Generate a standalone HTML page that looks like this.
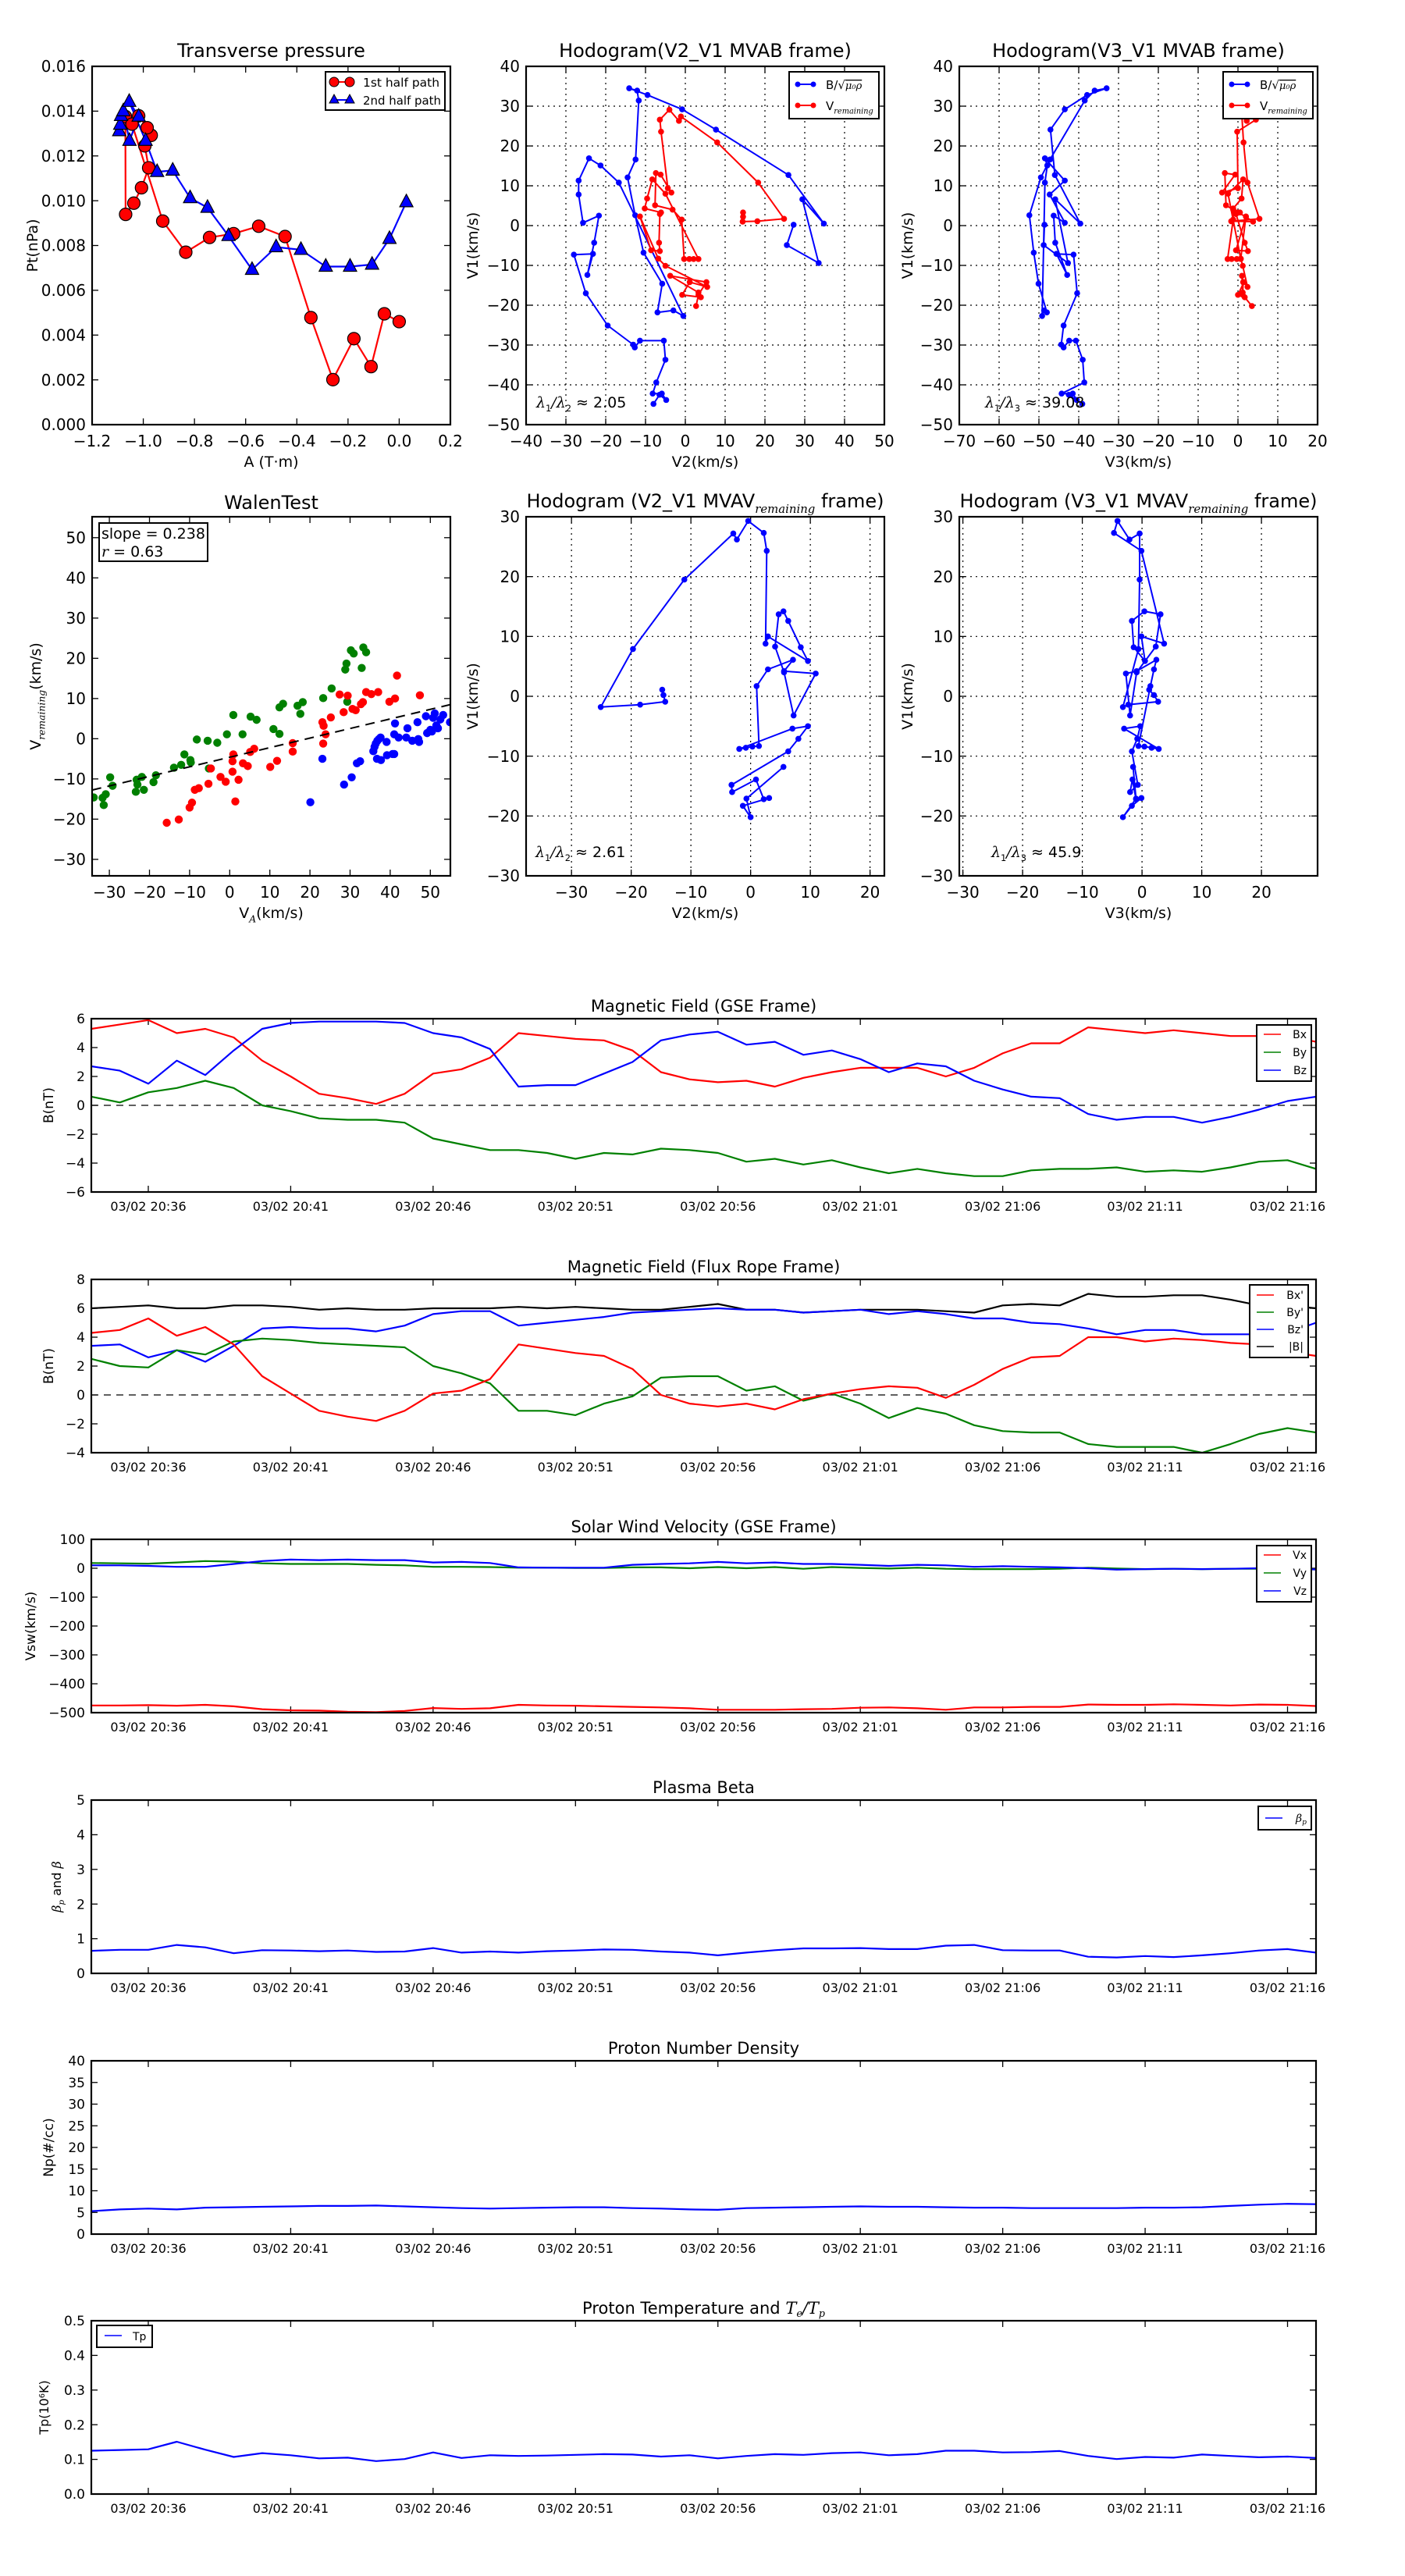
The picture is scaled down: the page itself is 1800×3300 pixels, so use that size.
<!DOCTYPE html>
<html><head><meta charset="utf-8"><title>Flux rope analysis</title>
<style>
html,body{margin:0;padding:0;background:#fff;}
svg{display:block;font-family:"DejaVu Sans","Liberation Sans",sans-serif;}
</style></head>
<body>
<svg id="fig" xmlns="http://www.w3.org/2000/svg" width="1800" height="3300" viewBox="0 0 1800 3300">
<rect x="0" y="0" width="1800" height="3300" fill="#fff"/>
</svg>
<script>
// ---------------- Transverse pressure ----------------
const tpA1 = [-1.07,-1.069,-1.037,-1.007,-0.979,-0.994,-0.969,-0.985,-1.018,-1.044,-0.924,-0.834,-0.741,-0.647,-0.549,-0.446,-0.345,-0.259,-0.177,-0.110,-0.058,0.0];
const tpP1 = [0.01376,0.00939,0.00989,0.01058,0.01147,0.01245,0.01292,0.01326,0.01379,0.01342,0.00909,0.0077,0.00836,0.00853,0.00886,0.0084,0.00478,0.00201,0.00384,0.00259,0.00495,0.0046];
const tpA2 = [-1.094,-1.09,-1.087,-1.078,-1.054,-1.018,-1.055,-0.991,-0.946,-0.885,-0.817,-0.749,-0.667,-0.575,-0.481,-0.384,-0.287,-0.192,-0.106,-0.038,0.028];
const tpP2 = [0.01311,0.0134,0.01379,0.0140,0.01268,0.01376,0.01442,0.01268,0.01129,0.01135,0.01012,0.00969,0.00843,0.00692,0.00793,0.00781,0.00706,0.00706,0.00715,0.0083,0.00994];
const tpXTicks = [-1.2,-1.0,-0.8,-0.6,-0.4,-0.2,0.0,0.2];
const tpYTicks = [0,0.002,0.004,0.006,0.008,0.010,0.012,0.014,0.016];

// ---------------- MVAB hodograms ----------------
const mvabB1 = [0.2,-4.9,-9.4,6.6,0.5,12.7,24.1,29.2,32.8,34.5,33.9,31.4,16.6,12.1,2.6,-6.8,-14.6,-21.8,-21.3,-22.7,10.8,15.1,16.9,11.3,7.8,0.7,2.5,-4.3,-12.4,-7.1,-7.3,-17.0,-25.1,-29.9,-30.6,-28.9,-28.9,-33.7,-39.4,-42.2,-42.2,-43.8,-42.5,-44.8];
const mvabB2 = [27.2,25.5,33.5,29.4,34.8,25.9,7.7,-0.8,-9.5,-14.1,-12.1,-11.7,-12.5,-14.5,-12.6,-10.5,-5.8,-7.0,-3.0,-0.5,-16.7,-21.3,-24.2,-26.8,-26.8,-25.7,-21.7,-22.9,-24.6,-23.2,-28.0,-25.0,-19.5,-13.1,-12.7,-11.4,-5.4,-5.0,-7.3,-8.2,-5.9,-4.8,-6.5,-8.0];
const mvabB3 = [-48.6,-48.8,-42.7,-45.9,-39.6,-46.0,-47.1,-43.5,-37.9,-33.0,-36.0,-38.5,-47.2,-49.5,-52.4,-51.3,-50.1,-48.0,-48.7,-49.2,-48.5,-47.9,-48.5,-43.5,-47.3,-43.5,-46.3,-45.9,-42.9,-45.6,-41.3,-40.4,-43.8,-44.4,-43.8,-42.4,-40.7,-39.0,-38.6,-44.3,-41.5,-40.5,-42.5,-39.1];
const mvabV1 = [3.3,2.2,1.0,1.1,1.7,10.8,20.9,27.4,26.3,29.1,26.6,23.6,9.4,8.3,12.8,13.2,5.1,4.0,1.5,-8.4,-8.4,-8.4,-8.4,8.0,11.6,6.8,4.3,3.3,2.9,-4.3,-6.4,-6.2,2.3,-8.3,-10.1,-15.4,-14.2,-17.4,-18.0,-16.8,-12.6,-14.2,-17.4,-20.2];
const mvabV2 = [14.5,14.5,14.4,18.1,24.8,18.3,8.0,-1.1,-1.6,-4.0,-6.4,-6.1,-4.4,-3.5,-6.2,-7.4,-7.6,-3.2,-0.9,-0.3,1.0,2.1,3.3,-5.0,-8.3,-9.6,-10.2,-6.1,-6.4,-6.6,-6.4,-8.6,-11.4,-6.8,-5.0,5.5,1.1,-0.8,3.9,3.3,-3.8,5.3,3.3,2.7];
const mvabV3 = [0.0,2.0,3.8,-1.7,5.4,2.4,1.4,1.0,2.2,1.5,4.5,-0.2,0.0,-4.0,-0.7,-3.3,-3.0,-1.2,-1.2,-2.6,-1.6,-0.3,0.7,-2.5,1.3,0.9,-1.2,0.5,-0.5,1.7,2.5,-0.5,2.0,0.7,1.2,2.4,1.5,0.0,1.7,1.2,1.0,1.3,1.2,3.5];
const h1XTicks = [-40,-30,-20,-10,0,10,20,30,40,50];
const h2XTicks = [-70,-60,-50,-40,-30,-20,-10,0,10,20];
const hTopYTicks = [-50,-40,-30,-20,-10,0,10,20,30,40];

// ---------------- Walen test ----------------
const walGreenX = [-33.9,-31.7,-31.4,-30.9,-29.8,-29.2,-23.4,-23.2,-23.0,-21.9,-21.4,-19.0,-18.4,-13.9,-12.1,-11.3,-9.8,-9.7,-8.2,-5.5,-5.2,-3.1,-0.7,0.9,3.2,5.2,6.7,10.9,12.4,12.4,13.3,16.9,17.6,18.2,23.3,25.4,28.8,29.1,29.3,30.2,30.9,32.9,33.3,34.0];
const walGreenY = [-14.6,-14.7,-16.5,-13.8,-9.6,-11.7,-13.2,-10.2,-11.4,-9.5,-12.7,-10.8,-9.1,-7.2,-6.5,-3.9,-5.3,-5.9,-0.2,-0.5,-7.4,-1.0,1.1,5.9,1.1,5.5,4.7,2.4,1.2,7.8,8.7,8.2,6.2,9.1,10.1,12.5,17.2,18.7,9.2,22.0,21.2,17.6,22.7,21.5];
const walRedX = [-15.7,-12.7,-10.0,-9.4,-8.7,-7.7,-5.3,-4.7,-2.3,-1.0,0.7,0.9,0.7,1.4,2.2,3.3,4.5,5.1,6.1,10.1,11.8,15.7,15.7,23.1,23.4,23.3,23.9,25.2,27.4,28.4,29.4,30.6,31.4,32.7,33.2,34.0,35.3,37.0,39.8,41.2,41.7,47.4];
const walRedY = [-20.9,-20.1,-17.1,-15.9,-12.7,-12.3,-11.2,-7.4,-9.5,-10.7,-8.2,-3.9,-5.6,-15.6,-10.2,-6.1,-6.8,-3.3,-2.5,-7.0,-5.5,-1.1,-3.2,4.1,3.2,-1.2,1.1,5.3,11.0,6.6,10.7,7.4,7.1,8.6,9.1,11.6,11.1,11.6,9.2,10.0,15.7,10.8];
const walBlueX = [20.1,23.1,28.5,30.4,31.7,32.5,35.8,36.4,36.7,37.2,37.7,39.1,39.2,40.6,41.0,41.2,41.0,42.1,44.0,44.3,45.5,46.8,47.0,47.2,48.9,49.2,50.0,50.7,51.1,51.5,52.5,53.2,54.9,36.8,37.6,36.1,50.4,51.9];
const walBlueY = [-15.8,-5.0,-11.4,-9.6,-6.1,-5.6,-3.1,-1.2,-5.0,-0.1,-5.3,-0.8,-4.1,-3.8,-3.8,3.8,1.1,0.3,0.3,2.6,-0.5,4.1,-0.1,-0.8,5.6,1.4,2.2,5.2,6.3,3.3,4.8,5.9,4.1,-0.5,0.3,-2.0,1.8,2.6];
const walSlope = [0.238];
const walIntercept = [-4.6];
const walXTicks = [-30,-20,-10,0,10,20,30,40,50];
const walYTicks = [-30,-20,-10,0,10,20,30,40,50];

// ---------------- MVAV hodograms ----------------
const mvavV1 = [1.1,0.2,-0.9,-1.4,-1.8,7.9,19.5,27.2,26.2,29.3,27.3,24.3,8.8,10.0,5.9,8.2,12.6,14.2,13.7,8.3,4.0,-3.2,3.8,4.2,6.1,4.5,1.7,-8.3,-8.4,-8.6,-8.8,-5.4,-5.0,-7.1,-9.2,-14.8,-16.0,-13.9,-17.2,-17.0,-18.3,-20.2,-17.1,-11.8];
const mvavV2 = [-14.8,-14.6,-14.3,-18.5,-25.1,-19.7,-11.1,-2.9,-2.3,-0.4,2.2,2.7,2.5,2.9,9.6,8.4,6.3,5.5,4.7,4.1,5.6,7.2,10.9,5.6,7.1,2.9,1.0,1.4,0.3,-0.8,-1.9,7.0,9.6,8.0,6.3,-3.2,-3.1,0.9,2.2,3.1,-1.3,0.0,-0.7,5.5];
const mvavV3 = [1.2,2.0,2.7,-2.3,-3.2,-0.6,-0.4,-0.4,-2.1,-4.1,-4.7,-0.1,3.7,-0.1,0.5,-1.4,-1.7,0.4,3.1,2.3,-0.9,-2.0,-2.7,-0.9,2.4,2.0,1.4,-0.6,0.4,1.6,2.8,-3.0,-0.3,-0.8,-1.7,-0.7,-2.0,-1.6,-1.0,-0.1,-1.7,-3.2,-1.0,-1.5];
const h3XTicks = [-30,-20,-10,0,10,20];
const h4XTicks = [-30,-20,-10,0,10,20];
const hBotYTicks = [-30,-20,-10,0,10,20,30];

// ---------------- Time series (1-min cadence, 20:34 .. 21:17) ----------------
const gseBx = [5.3,5.6,5.9,5.0,5.3,4.7,3.1,2.0,0.8,0.5,0.1,0.8,2.2,2.5,3.3,5.0,4.8,4.6,4.5,3.8,2.3,1.8,1.6,1.7,1.3,1.9,2.3,2.6,2.6,2.6,2.0,2.6,3.6,4.3,4.3,5.4,5.2,5.0,5.2,5.0,4.8,4.8,4.8,4.4];
const gseBy = [0.6,0.2,0.9,1.2,1.7,1.2,0.0,-0.4,-0.9,-1.0,-1.0,-1.2,-2.3,-2.7,-3.1,-3.1,-3.3,-3.7,-3.3,-3.4,-3.0,-3.1,-3.3,-3.9,-3.7,-4.1,-3.8,-4.3,-4.7,-4.4,-4.7,-4.9,-4.9,-4.5,-4.4,-4.4,-4.3,-4.6,-4.5,-4.6,-4.3,-3.9,-3.8,-4.4];
const gseBz = [2.7,2.4,1.5,3.1,2.1,3.8,5.3,5.7,5.8,5.8,5.8,5.7,5.0,4.7,3.9,1.3,1.4,1.4,2.2,3.0,4.5,4.9,5.1,4.2,4.4,3.5,3.8,3.2,2.3,2.9,2.7,1.7,1.1,0.6,0.5,-0.6,-1.0,-0.8,-0.8,-1.2,-0.8,-0.3,0.3,0.6];
const frBx = [4.3,4.5,5.3,4.1,4.7,3.5,1.3,0.1,-1.1,-1.5,-1.8,-1.1,0.1,0.3,1.1,3.5,3.2,2.9,2.7,1.8,0.0,-0.6,-0.8,-0.6,-1.0,-0.3,0.1,0.4,0.6,0.5,-0.2,0.7,1.8,2.6,2.7,4.0,4.0,3.7,3.9,3.8,3.6,3.5,3.0,2.7];
const frBy = [2.5,2.0,1.9,3.1,2.8,3.7,3.9,3.8,3.6,3.5,3.4,3.3,2.0,1.5,0.8,-1.1,-1.1,-1.4,-0.6,-0.1,1.2,1.3,1.3,0.3,0.6,-0.4,0.1,-0.6,-1.6,-0.9,-1.3,-2.1,-2.5,-2.6,-2.6,-3.4,-3.6,-3.6,-3.6,-4.0,-3.4,-2.7,-2.3,-2.6];
const frBz = [3.4,3.5,2.6,3.1,2.3,3.4,4.6,4.7,4.6,4.6,4.4,4.8,5.6,5.8,5.8,4.8,5.0,5.2,5.4,5.7,5.8,5.9,6.0,5.9,5.9,5.7,5.8,5.9,5.6,5.8,5.6,5.3,5.3,5.0,4.9,4.6,4.2,4.5,4.5,4.2,4.2,4.2,4.3,5.0];
const frBt = [6.0,6.1,6.2,6.0,6.0,6.2,6.2,6.1,5.9,6.0,5.9,5.9,6.0,6.0,6.0,6.1,6.0,6.1,6.0,5.9,5.9,6.1,6.3,5.9,5.9,5.7,5.8,5.9,5.9,5.9,5.8,5.7,6.2,6.3,6.2,7.0,6.8,6.8,6.9,6.9,6.6,6.2,6.2,6.0];
const swVx = [-475,-475,-474,-476,-473,-478,-488,-492,-493,-497,-498,-494,-484,-487,-485,-473,-475,-476,-478,-480,-482,-485,-490,-490,-490,-488,-487,-483,-482,-485,-490,-482,-482,-480,-480,-472,-473,-473,-471,-473,-475,-472,-473,-477];
const swVy = [18,17,16,20,25,23,17,15,15,15,12,10,5,5,4,2,2,1,1,3,3,0,4,0,4,-2,4,1,-1,2,-2,-3,-3,-3,-2,2,-1,-3,-2,-3,-2,-2,-3,-4];
const swVz = [10,10,8,5,5,15,25,30,28,30,28,28,20,22,18,3,2,2,2,12,15,17,22,17,20,15,15,12,8,12,10,5,7,5,3,0,-5,-3,-2,-3,-2,0,-2,-4];
const betaP = [0.65,0.68,0.68,0.82,0.75,0.58,0.67,0.66,0.64,0.66,0.62,0.63,0.73,0.6,0.63,0.6,0.64,0.66,0.69,0.68,0.63,0.6,0.52,0.6,0.67,0.72,0.72,0.73,0.7,0.7,0.8,0.82,0.67,0.66,0.66,0.48,0.46,0.5,0.47,0.52,0.58,0.66,0.7,0.6];
const protonNp = [5.3,5.7,5.9,5.7,6.1,6.2,6.3,6.4,6.5,6.5,6.6,6.4,6.2,6.0,5.9,6.0,6.1,6.2,6.2,6.0,5.9,5.7,5.6,6.0,6.1,6.2,6.3,6.4,6.3,6.3,6.2,6.1,6.1,6.0,6.0,6.0,6.0,6.1,6.1,6.2,6.5,6.8,7.0,6.9];
const protonTp = [0.125,0.127,0.129,0.151,0.128,0.107,0.118,0.112,0.103,0.105,0.095,0.101,0.12,0.104,0.112,0.11,0.111,0.113,0.115,0.114,0.108,0.112,0.103,0.11,0.115,0.113,0.118,0.12,0.112,0.115,0.125,0.125,0.12,0.121,0.124,0.11,0.101,0.107,0.105,0.114,0.11,0.106,0.108,0.104];
const timeTickLabels = ["03/02 20:36","03/02 20:41","03/02 20:46","03/02 20:51","03/02 20:56","03/02 21:01","03/02 21:06","03/02 21:11","03/02 21:16"];
const timeTickIdx = [2,7,12,17,22,27,32,37,42];

// ================= rendering =================
const NS = "http://www.w3.org/2000/svg";
const fig = document.getElementById('fig');
function mk(tag, attrs, parent){
  const e = document.createElementNS(NS, tag);
  for (const k in attrs) e.setAttribute(k, attrs[k]);
  (parent || fig).appendChild(e);
  return e;
}
function fmt(v, d){ const s = v.toFixed(d); return s.replace('-', '\u2212'); }
function txt(x, y, s, size, anchor, parent, extra){
  const t = mk('text', Object.assign({x:x, y:y, 'font-size':size, 'text-anchor':anchor||'middle', fill:'#000'}, extra||{}), parent);
  t.textContent = s;
  return t;
}
// append tspan pieces: [text, dy, sizePct, italic]
function span(t, s, dy, pct, italic){
  const a = {};
  if (dy) a.dy = dy;
  if (pct) a['font-size'] = pct;
  if (italic) { a['font-style'] = 'italic'; a['font-family'] = '"DejaVu Serif","Liberation Serif",serif'; }
  const e = mk('tspan', a, t);
  e.textContent = s;
  return e;
}
function addSub(t, base, sub, italicSub){
  t.textContent = '';
  const fs = parseFloat(t.getAttribute('font-size'));
  span(t, base, 0, null, false);
  span(t, sub, fs*0.3, '65%', italicSub);
  const r = span(t, '\u200b', -fs*0.3, null, false);
  return r;
}

function axes(name, x, y, w, h, xmin, xmax, ymin, ymax){
  const g = mk('g', {});
  
  
  const sx = v => x + (v - xmin) / (xmax - xmin) * w;
  const sy = v => y + h - (v - ymin) / (ymax - ymin) * h;
  return {g, x, y, w, h, sx, sy};
}
function frame(ax){
  const r = mk('rect', {x:ax.x, y:ax.y, width:ax.w, height:ax.h, fill:'none', stroke:'#000', 'stroke-width':2.2}, ax.g);
  
  
}
function xticks(ax, vals, labels, size, grid, len){
  const gg = mk('g', {}, ax.g);
  
  
  vals.forEach((v, i) => {
    const px = ax.sx(v);
    if (px < ax.x - 1 || px > ax.x + ax.w + 1) return;
    if (grid) mk('line', {x1:px, x2:px, y1:ax.y, y2:ax.y+ax.h, stroke:'#000', 'stroke-width':1.2, 'stroke-dasharray':'2,5'}, gg);
    mk('line', {x1:px, x2:px, y1:ax.y+ax.h, y2:ax.y+ax.h-len, stroke:'#000', 'stroke-width':1.3}, gg);
    mk('line', {x1:px, x2:px, y1:ax.y, y2:ax.y+len, stroke:'#000', 'stroke-width':1.3}, gg);
    txt(px, ax.y + ax.h + size + 8, labels[i], size, 'middle', gg);
  });
}
function yticks(ax, vals, labels, size, grid, len){
  const gg = mk('g', {}, ax.g);
  
  
  vals.forEach((v, i) => {
    const py = ax.sy(v);
    if (grid) mk('line', {x1:ax.x, x2:ax.x+ax.w, y1:py, y2:py, stroke:'#000', 'stroke-width':1.2, 'stroke-dasharray':'2,5'}, gg);
    mk('line', {x1:ax.x, x2:ax.x+len, y1:py, y2:py, stroke:'#000', 'stroke-width':1.3}, gg);
    mk('line', {x1:ax.x+ax.w, x2:ax.x+ax.w-len, y1:py, y2:py, stroke:'#000', 'stroke-width':1.3}, gg);
    txt(ax.x - 8, py + size*0.36, labels[i], size, 'end', gg);
  });
}
function clip(ax, id){
  const cp = mk('clipPath', {id:id}, ax.g);
  mk('rect', {x:ax.x, y:ax.y, width:ax.w, height:ax.h}, cp);
  const g = mk('g', {'clip-path':'url(#'+id+')'}, ax.g);
  return g;
}
function polyline(parent, ax, xs, ys, color, width, name){
  const pts = xs.map((v, i) => ax.sx(v).toFixed(1) + ',' + ax.sy(ys[i]).toFixed(1)).join(' ');
  const p = mk('polyline', {points:pts, fill:'none', stroke:color, 'stroke-width':width, 'stroke-linejoin':'round'}, parent);
  
  
  return p;
}
function dots(parent, ax, xs, ys, color, r, stroke, name){
  const g = mk('g', {}, parent);
  
  
  xs.forEach((v, i) => {
    mk('circle', {cx:ax.sx(v), cy:ax.sy(ys[i]), r:r, fill:color, stroke:stroke||'none', 'stroke-width':1.2}, g);
  });
}
function title(ax, s, size, off){
  const t = txt(ax.x + ax.w/2, ax.y - off, s, size, 'middle', ax.g);
  
  
  return t;
}
function ylabel(ax, s, size, xpos){
  const cy = ax.y + ax.h/2;
  const t = txt(xpos, cy, s, size, 'middle', ax.g, {transform:'rotate(-90 '+xpos+' '+cy+')'});
  
  
  return t;
}
function xlabel(ax, s, size, ypos){
  const t = txt(ax.x + ax.w/2, ypos, s, size, 'middle', ax.g);
  
  
  return t;
}

const TF = 20;   // top-row tick font
const tlen = 8;

// ---------- Transverse pressure ----------
(function(){
  const ax = axes('transverse-pressure-chart', 118, 85, 459, 459, -1.2, 0.2, 0, 0.016);
  xticks(ax, tpXTicks, tpXTicks.map(v => fmt(v,1)), TF, false, tlen);
  yticks(ax, tpYTicks, tpYTicks.map(v => fmt(v,3)), TF, false, tlen);
  const c = clip(ax, 'c-tp');
  polyline(c, ax, tpA1, tpP1, '#ff0000', 2.2, 'first-half-path-line');
  polyline(c, ax, tpA2, tpP2, '#0000ff', 2.2, 'second-half-path-line');
  dots(ax.g, ax, tpA1, tpP1, '#ff0000', 8, '#000', 'first-half-path-markers');
  const tg = mk('g', {}, ax.g);
  
  
  tpA2.forEach((v, i) => {
    const px = ax.sx(v), py = ax.sy(tpP2[i]);
    mk('polygon', {points:(px)+','+(py-10)+' '+(px-8.5)+','+(py+6)+' '+(px+8.5)+','+(py+6), fill:'#0000ff', stroke:'#000', 'stroke-width':1.2}, tg);
  });
  frame(ax);
  title(ax, 'Transverse pressure', 24, 12);
  ylabel(ax, 'Pt(nPa)', 19, 48);
  xlabel(ax, 'A (T\u00b7m)', 19, 598);
  const lg = mk('g', {}, ax.g);
  
  
  mk('rect', {x:417, y:92, width:153, height:49, fill:'#fff', stroke:'#000', 'stroke-width':2}, lg);
  mk('line', {x1:428, x2:448, y1:105, y2:105, stroke:'#ff0000', 'stroke-width':2}, lg);
  mk('circle', {cx:428, cy:105, r:6, fill:'#ff0000', stroke:'#000'}, lg);
  mk('circle', {cx:448, cy:105, r:6, fill:'#ff0000', stroke:'#000'}, lg);
  txt(465, 111, '1st half path', 15, 'start', lg, {textLength:98, lengthAdjust:'spacingAndGlyphs'});
  mk('line', {x1:428, x2:448, y1:128, y2:128, stroke:'#0000ff', 'stroke-width':2}, lg);
  mk('polygon', {points:'428,121 422,132 434,132', fill:'#0000ff', stroke:'#000'}, lg);
  mk('polygon', {points:'448,121 442,132 454,132', fill:'#0000ff', stroke:'#000'}, lg);
  txt(465, 134, '2nd half path', 15, 'start', lg, {textLength:100, lengthAdjust:'spacingAndGlyphs'});
})();

function hodoLegend(ax, lx){
  const lg = mk('g', {}, ax.g);
  
  
  mk('rect', {x:lx, y:92, width:115, height:60, fill:'#fff', stroke:'#000', 'stroke-width':2}, lg);
  mk('line', {x1:lx+11, x2:lx+31, y1:108, y2:108, stroke:'#0000ff', 'stroke-width':2}, lg);
  mk('circle', {cx:lx+11, cy:108, r:3.5, fill:'#0000ff'}, lg);
  mk('circle', {cx:lx+31, cy:108, r:3.5, fill:'#0000ff'}, lg);
  const t1 = txt(lx+47, 114, '', 15, 'start', lg);
  span(t1, 'B/\u221a', 0, null, false);
  const b = span(t1, '\u03bc\u2080\u03c1', 0, '13', true);
  b.setAttribute('text-decoration', 'overline');
  mk('line', {x1:lx+11, x2:lx+31, y1:135, y2:135, stroke:'#ff0000', 'stroke-width':2}, lg);
  mk('circle', {cx:lx+11, cy:135, r:3.5, fill:'#ff0000'}, lg);
  mk('circle', {cx:lx+31, cy:135, r:3.5, fill:'#ff0000'}, lg);
  const t2 = txt(lx+47, 141, '', 15, 'start', lg);
  addSub(t2, 'V', 'remaining', true);
}
function lambdaText(ax, x, y, i, j, val){
  const t = txt(x, y, '', 19, 'start', ax.g);
  
  
  span(t, '\u03bb', 0, null, true);
  span(t, i, 5, '60%', false);
  span(t, '/\u03bb', -5, null, true);
  span(t, j, 5, '60%', false);
  span(t, ' \u2248 ' + val, -5, null, false);
}

// ---------- MVAB V2-V1 ----------
(function(){
  const ax = axes('hodogram-v2-v1-mvab', 674, 85, 459, 459, -40, 50, -50, 40);
  xticks(ax, h1XTicks, h1XTicks.map(v => fmt(v,0)), TF, true, tlen);
  yticks(ax, hTopYTicks, hTopYTicks.map(v => fmt(v,0)), TF, true, tlen);
  const c = clip(ax, 'c-h1');
  polyline(c, ax, mvabB2, mvabB1, '#0000ff', 2, 'alfven-velocity-path');
  dots(c, ax, mvabB2, mvabB1, '#0000ff', 3.8, null, 'alfven-velocity-points');
  polyline(c, ax, mvabV2, mvabV1, '#ff0000', 2, 'remaining-velocity-path');
  dots(c, ax, mvabV2, mvabV1, '#ff0000', 3.8, null, 'remaining-velocity-points');
  frame(ax);
  title(ax, 'Hodogram(V2_V1 MVAB frame)', 24, 12);
  ylabel(ax, 'V1(km/s)', 19, 612);
  xlabel(ax, 'V2(km/s)', 19, 598);
  hodoLegend(ax, 1011);
  lambdaText(ax, 687, 522, '1', '2', '2.05');
})();

// ---------- MVAB V3-V1 ----------
(function(){
  const ax = axes('hodogram-v3-v1-mvab', 1229, 85, 459, 459, -70, 20, -50, 40);
  xticks(ax, h2XTicks, h2XTicks.map(v => fmt(v,0)), TF, true, tlen);
  yticks(ax, hTopYTicks, hTopYTicks.map(v => fmt(v,0)), TF, true, tlen);
  const c = clip(ax, 'c-h2');
  polyline(c, ax, mvabB3, mvabB1, '#0000ff', 2, 'alfven-velocity-path');
  dots(c, ax, mvabB3, mvabB1, '#0000ff', 3.8, null, 'alfven-velocity-points');
  polyline(c, ax, mvabV3, mvabV1, '#ff0000', 2, 'remaining-velocity-path');
  dots(c, ax, mvabV3, mvabV1, '#ff0000', 3.8, null, 'remaining-velocity-points');
  frame(ax);
  title(ax, 'Hodogram(V3_V1 MVAB frame)', 24, 12);
  ylabel(ax, 'V1(km/s)', 19, 1169);
  xlabel(ax, 'V3(km/s)', 19, 598);
  hodoLegend(ax, 1567);
  lambdaText(ax, 1262, 522, '1', '3', '39.08');
})();

// ---------- Walen test ----------
(function(){
  const ax = axes('walen-test-chart', 118, 662, 459, 460, -34.3, 55, -34.1, 55.2);
  xticks(ax, walXTicks, walXTicks.map(v => fmt(v,0)), TF, false, tlen);
  yticks(ax, walYTicks, walYTicks.map(v => fmt(v,0)), TF, false, tlen);
  const c = clip(ax, 'c-wal');
  dots(c, ax, walGreenX, walGreenY, '#008000', 5.2, null, 'walen-points-green');
  dots(c, ax, walRedX, walRedY, '#ff0000', 5.2, null, 'walen-points-red');
  dots(c, ax, walBlueX, walBlueY, '#0000ff', 5.2, null, 'walen-points-blue');
  const fx = [-34.3, 55];
  const fy = fx.map(v => walSlope[0]*v + walIntercept[0]);
  const fl = polyline(c, ax, fx, fy, '#000', 2, 'walen-fit-line');
  fl.setAttribute('stroke-dasharray', '12,8');
  frame(ax);
  title(ax, 'WalenTest', 24, 10);
  const yl = ylabel(ax, '', 19, 52);
  addSub(yl, 'V', 'remaining', true);
  span(yl, '(km/s)', 0, null, false);
  const xl = xlabel(ax, '', 19, 1176);
  addSub(xl, 'V', 'A', true);
  span(xl, '(km/s)', 0, null, false);
  const bx = mk('g', {}, ax.g);
  
  
  mk('rect', {x:127, y:670, width:139, height:49, fill:'#fff', stroke:'#000', 'stroke-width':2}, bx);
  txt(130, 690, 'slope = 0.238', 19, 'start', bx);
  const r = txt(130, 713, '', 19, 'start', bx);
  span(r, 'r', 0, null, true);
  span(r, ' = 0.63', 0, null, false);
})();

function mvavTitle(ax, s1){
  const t = title(ax, '', 24, 12);
  span(t, s1 + 'MVAV', 0, null, false);
  span(t, 'remaining', 7, '62%', true);
  span(t, ' frame)', -7, null, false);
}
// ---------- MVAV V2-V1 ----------
(function(){
  const ax = axes('hodogram-v2-v1-mvav', 674, 662, 459, 460, -37.6, 22.4, -30, 30);
  xticks(ax, h3XTicks, h3XTicks.map(v => fmt(v,0)), TF, true, tlen);
  yticks(ax, hBotYTicks, hBotYTicks.map(v => fmt(v,0)), TF, true, tlen);
  const c = clip(ax, 'c-h3');
  polyline(c, ax, mvavV2, mvavV1, '#0000ff', 2, 'mvav-path');
  dots(c, ax, mvavV2, mvavV1, '#0000ff', 3.8, null, 'mvav-points');
  frame(ax);
  mvavTitle(ax, 'Hodogram (V2_V1 ');
  ylabel(ax, 'V1(km/s)', 19, 612);
  xlabel(ax, 'V2(km/s)', 19, 1176);
  lambdaText(ax, 686, 1098, '1', '2', '2.61');
})();
// ---------- MVAV V3-V1 ----------
(function(){
  const ax = axes('hodogram-v3-v1-mvav', 1229, 662, 459, 460, -30.6, 29.4, -30, 30);
  xticks(ax, h4XTicks, h4XTicks.map(v => fmt(v,0)), TF, true, tlen);
  yticks(ax, hBotYTicks, hBotYTicks.map(v => fmt(v,0)), TF, true, tlen);
  const c = clip(ax, 'c-h4');
  polyline(c, ax, mvavV3, mvavV1, '#0000ff', 2, 'mvav-path');
  dots(c, ax, mvavV3, mvavV1, '#0000ff', 3.8, null, 'mvav-points');
  frame(ax);
  mvavTitle(ax, 'Hodogram (V3_V1 ');
  ylabel(ax, 'V1(km/s)', 19, 1169);
  xlabel(ax, 'V3(km/s)', 19, 1176);
  lambdaText(ax, 1270, 1098, '1', '3', '45.9');
})();

// ---------- time series panels ----------
const TS_X = 117, TS_W = 1569, TS_H = 222;
const tsTops = [1305, 1639, 1972, 2306, 2640, 2973];
const idx = gseBx.map((v, i) => i);
function tsPanel(name, k, ymin, ymax, yvals, ydec, ttl, series, zeroLine){
  const ax = axes(name, TS_X, tsTops[k], TS_W, TS_H, 0, 43, ymin, ymax);
  xticks(ax, timeTickIdx, timeTickLabels, 16, false, 8);
  yticks(ax, yvals, yvals.map(v => fmt(v, ydec)), 17, false, 8);
  const c = clip(ax, 'c-ts' + k);
  if (zeroLine) {
    const z = mk('line', {x1:ax.x, x2:ax.x+ax.w, y1:ax.sy(0), y2:ax.sy(0), stroke:'#000', 'stroke-width':1.3, 'stroke-dasharray':'9,7'}, c);
    
    
  }
  series.forEach(s => polyline(c, ax, idx, s.data, s.color, 2.2, s.name));
  frame(ax);
  title(ax, ttl, 21, 9);
  return ax;
}
function tsLegend(ax, x0, y0, w, rowY, items){
  const lg = mk('g', {}, ax.g);
  
  
  const h = rowY[rowY.length-1] - y0 + 14;
  mk('rect', {x:x0, y:y0, width:w, height:h, fill:'#fff', stroke:'#000', 'stroke-width':2}, lg);
  items.forEach((it, i) => {
    mk('line', {x1:x0+9, x2:x0+31, y1:rowY[i], y2:rowY[i], stroke:it.color, 'stroke-width':1.6}, lg);
    txt(x0+w-6, rowY[i]+5, it.label, 14, 'end', lg);
  });
  return lg;
}

(function(){
  const ax = tsPanel('magnetic-field-gse-chart', 0, -6, 6, [-6,-4,-2,0,2,4,6], 0, 'Magnetic Field (GSE Frame)',
    [{data:gseBx, color:'#ff0000', name:'bx-line'},{data:gseBy, color:'#008000', name:'by-line'},{data:gseBz, color:'#0000ff', name:'bz-line'}], true);
  ylabel(ax, 'B(nT)', 17, 68);
  tsLegend(ax, 1610, 1313, 70, [1325, 1348, 1371], [{color:'#ff0000', label:'Bx'},{color:'#008000', label:'By'},{color:'#0000ff', label:'Bz'}]);
})();
(function(){
  const ax = tsPanel('magnetic-field-flux-rope-chart', 1, -4, 8, [-4,-2,0,2,4,6,8], 0, 'Magnetic Field (Flux Rope Frame)',
    [{data:frBt, color:'#000000', name:'b-magnitude-line'},{data:frBz, color:'#0000ff', name:'bz-prime-line'},{data:frBy, color:'#008000', name:'by-prime-line'},{data:frBx, color:'#ff0000', name:'bx-prime-line'}], true);
  ylabel(ax, 'B(nT)', 17, 68);
  tsLegend(ax, 1601, 1646, 75, [1659, 1681, 1703, 1725], [{color:'#ff0000', label:"Bx'"},{color:'#008000', label:"By'"},{color:'#0000ff', label:"Bz'"},{color:'#000000', label:'|B|'}]);
})();
(function(){
  const ax = tsPanel('solar-wind-velocity-chart', 2, -500, 100, [-500,-400,-300,-200,-100,0,100], 0, 'Solar Wind Velocity (GSE Frame)',
    [{data:swVx, color:'#ff0000', name:'vx-line'},{data:swVy, color:'#008000', name:'vy-line'},{data:swVz, color:'#0000ff', name:'vz-line'}], false);
  ylabel(ax, 'Vsw(km/s)', 17, 45);
  tsLegend(ax, 1610, 1980, 70, [1992, 2015, 2038], [{color:'#ff0000', label:'Vx'},{color:'#008000', label:'Vy'},{color:'#0000ff', label:'Vz'}]);
})();
(function(){
  const ax = tsPanel('plasma-beta-chart', 3, 0, 5, [0,1,2,3,4,5], 0, 'Plasma Beta',
    [{data:betaP, color:'#0000ff', name:'beta-p-line'}], false);
  const yl = ylabel(ax, '', 16, 78);
  span(yl, '\u03b2', 0, null, true);
  span(yl, 'p', 4, '65%', true);
  span(yl, ' and ', -4, null, false);
  span(yl, '\u03b2', 0, null, true);
  const lg = mk('g', {}, ax.g);
  
  
  mk('rect', {x:1612, y:2314, width:68, height:30, fill:'#fff', stroke:'#000', 'stroke-width':2}, lg);
  mk('line', {x1:1621, x2:1643, y1:2329, y2:2329, stroke:'#0000ff', 'stroke-width':1.6}, lg);
  const lt = txt(1660, 2334, '', 14, 'start', lg);
  span(lt, '\u03b2', 0, null, true);
  span(lt, 'p', 3, '65%', true);
})();
(function(){
  const ax = tsPanel('proton-density-chart', 4, 0, 40, [0,5,10,15,20,25,30,35,40], 0, 'Proton Number Density',
    [{data:protonNp, color:'#0000ff', name:'np-line'}], false);
  ylabel(ax, 'Np(#/cc)', 17, 68);
})();
(function(){
  const ax = tsPanel('proton-temperature-chart', 5, 0, 0.5, [0,0.1,0.2,0.3,0.4,0.5], 1, '',
    [{data:protonTp, color:'#0000ff', name:'tp-line'}], false);
  const t = title(ax, '', 21, 9);
  span(t, 'Proton Temperature and ', 0, null, false);
  span(t, 'T', 0, null, true);
  span(t, 'e', 4, '60%', true);
  span(t, '/T', -4, null, true);
  span(t, 'p', 4, '60%', true);
  const yl = ylabel(ax, '', 16, 62);
  span(yl, 'Tp(10', 0, null, false);
  span(yl, '6', -5, '60%', false);
  span(yl, 'K)', 5, null, false);
  const lg = mk('g', {}, ax.g);
  
  
  mk('rect', {x:124, y:2979, width:71, height:28, fill:'#fff', stroke:'#000', 'stroke-width':2}, lg);
  mk('line', {x1:134, x2:156, y1:2992, y2:2992, stroke:'#0000ff', 'stroke-width':1.6}, lg);
  txt(170, 2998, 'Tp', 14, 'start', lg);
})();
</script>
</body></html>
